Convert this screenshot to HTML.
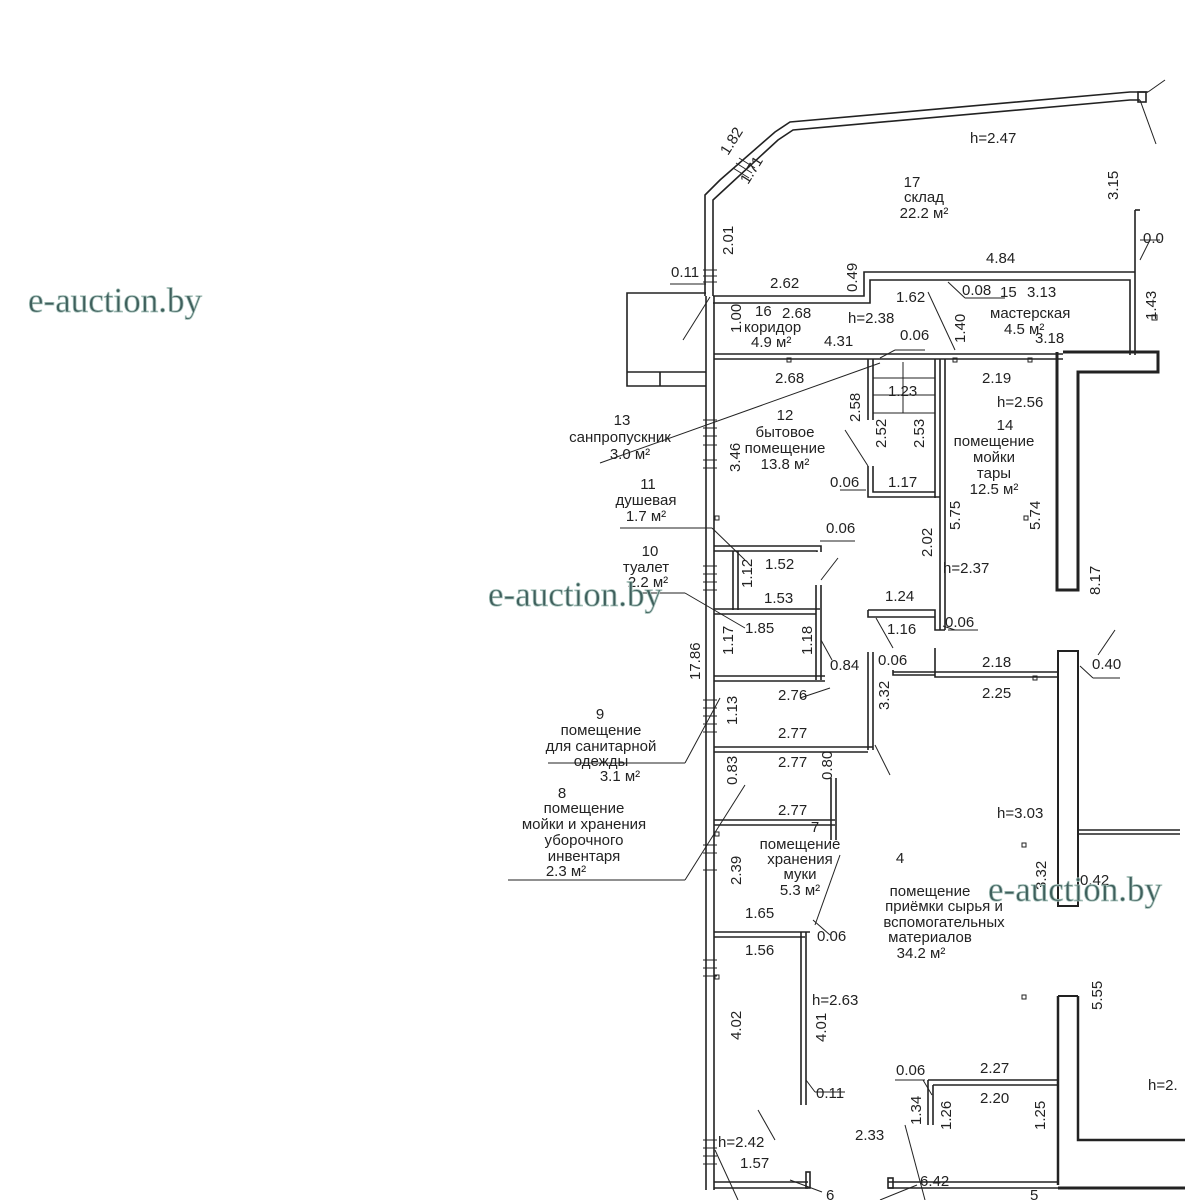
<!DOCTYPE html>
<html><head><meta charset="utf-8"><style>
html,body{margin:0;padding:0;background:#fff;}
svg{display:block}
text{font-family:"Liberation Sans Narrow","Liberation Sans","DejaVu Sans Condensed",sans-serif;font-size:15px;fill:#222;}
.wm{font-family:"Liberation Serif",serif;font-size:35px;fill:#3f5f5c;stroke:#a9c4bd;stroke-width:0.8;}
</style></head><body>
<svg width="1200" height="1200" viewBox="0 0 1200 1200" xmlns="http://www.w3.org/2000/svg">
<rect width="1200" height="1200" fill="#fff"/>
<g stroke="#222" stroke-width="1.6" fill="none">
<path d="M705 296 V195 L720 180 L775 132 L790 122 L1130 92 L1148 92"/>
<path d="M713 296 V200 L726 188 L778 140 L793 130 L1130 100 L1140 100"/>
<rect x="1138" y="92" width="8" height="10"/>
<line x1="1140" y1="100" x2="1156" y2="144" stroke-width="1"/>
<line x1="1148" y1="92" x2="1165" y2="80" stroke-width="1"/>
<line x1="706" y1="296" x2="706" y2="1190"/>
<line x1="714" y1="296" x2="714" y2="1190"/>
<path d="M713 296 H864 V272 H1135"/>
<path d="M713 303 H870 V280 H1130 V355"/>
<line x1="1135" y1="210" x2="1135" y2="355"/>
<line x1="1135" y1="210" x2="1140" y2="210"/>
<path d="M706 293 H627 V386 H706"/>
<line x1="627" y1="372" x2="706" y2="372"/>
<line x1="660" y1="372" x2="660" y2="386"/>
<line x1="714" y1="354" x2="1063" y2="354"/>
<line x1="714" y1="359" x2="1063" y2="359"/>
<path d="M1063 352 H1158 V372 H1078 V590 H1057 V352" stroke-width="3"/>
<line x1="868" y1="359" x2="868" y2="420"/>
<line x1="873" y1="359" x2="873" y2="420"/>
<line x1="935" y1="359" x2="935" y2="498"/>
<line x1="940" y1="359" x2="940" y2="630"/>
<line x1="945" y1="359" x2="945" y2="630"/>
<line x1="873" y1="378" x2="935" y2="378" stroke-width="1"/>
<line x1="873" y1="395" x2="935" y2="395" stroke-width="1"/>
<line x1="873" y1="413" x2="935" y2="413" stroke-width="1"/>
<line x1="903" y1="362" x2="903" y2="413" stroke-width="1"/>
<path d="M868 466 V497 H940"/>
<path d="M873 466 V492 H935"/>
<path d="M714 546 H821 V552"/>
<path d="M714 551 H817 V552"/>
<line x1="733" y1="551" x2="733" y2="610"/>
<line x1="738" y1="551" x2="738" y2="610"/>
<line x1="714" y1="609" x2="820" y2="609"/>
<line x1="714" y1="614" x2="816" y2="614"/>
<line x1="816" y1="585" x2="816" y2="680"/>
<line x1="821" y1="585" x2="821" y2="680"/>
<path d="M868 610 H935 V630 H945"/>
<path d="M868 610 V617 H935"/>
<line x1="868" y1="652" x2="868" y2="750"/>
<line x1="873" y1="652" x2="873" y2="750"/>
<line x1="714" y1="676" x2="825" y2="676"/>
<line x1="714" y1="681" x2="825" y2="681"/>
<line x1="714" y1="747" x2="873" y2="747"/>
<line x1="714" y1="752" x2="868" y2="752"/>
<line x1="714" y1="820" x2="835" y2="820"/>
<line x1="714" y1="825" x2="835" y2="825"/>
<line x1="831" y1="778" x2="831" y2="840"/>
<line x1="836" y1="778" x2="836" y2="840"/>
<path d="M935 648 V677 H1057"/>
<path d="M893 670 V675 H935"/>
<line x1="893" y1="672" x2="1057" y2="672"/>
<rect x="1058" y="651" width="20" height="255" stroke-width="2"/>
<line x1="1078" y1="830" x2="1180" y2="830"/>
<line x1="1078" y1="834" x2="1180" y2="834"/>
<line x1="714" y1="932" x2="810" y2="932"/>
<line x1="714" y1="937" x2="805" y2="937"/>
<line x1="801" y1="932" x2="801" y2="1105"/>
<line x1="806" y1="932" x2="806" y2="1105"/>
<path d="M1058 996 V1185 M1078 996 V1140 H1185" stroke-width="2.5"/>
<line x1="1058" y1="996" x2="1078" y2="996" stroke-width="2"/>
<path d="M928 1080 H1058 M933 1085 H1058"/>
<line x1="928" y1="1080" x2="928" y2="1125"/>
<line x1="933" y1="1085" x2="933" y2="1125"/>
<line x1="714" y1="1182" x2="808" y2="1182"/>
<line x1="714" y1="1188" x2="808" y2="1188"/>
<line x1="888" y1="1182" x2="1058" y2="1182"/>
<line x1="888" y1="1188" x2="1058" y2="1188"/>
<line x1="1058" y1="1188" x2="1185" y2="1188" stroke-width="3"/>
<rect x="806" y="1172" width="4" height="16"/>
<rect x="888" y="1178" width="5" height="10"/>
<g stroke-width="1">
<line x1="683" y1="340" x2="710" y2="297"/>
<line x1="670" y1="284" x2="706" y2="284"/>
<line x1="965" y1="298" x2="948" y2="282"/>
<line x1="965" y1="298" x2="1005" y2="298"/>
<line x1="928" y1="292" x2="955" y2="350"/>
<line x1="880" y1="358" x2="895" y2="350"/>
<line x1="895" y1="350" x2="925" y2="350"/>
<line x1="600" y1="463" x2="880" y2="363"/>
<line x1="845" y1="430" x2="868" y2="466"/>
<line x1="840" y1="490" x2="866" y2="490"/>
<line x1="620" y1="528" x2="712" y2="528"/>
<line x1="712" y1="528" x2="745" y2="560"/>
<line x1="820" y1="541" x2="855" y2="541"/>
<line x1="640" y1="593" x2="685" y2="593"/>
<line x1="685" y1="593" x2="745" y2="628"/>
<line x1="838" y1="558" x2="821" y2="580"/>
<line x1="821" y1="640" x2="832" y2="660"/>
<line x1="876" y1="618" x2="893" y2="648"/>
<line x1="943" y1="626" x2="955" y2="630"/>
<line x1="948" y1="630" x2="978" y2="630"/>
<line x1="1080" y1="666" x2="1093" y2="678"/>
<line x1="1093" y1="678" x2="1120" y2="678"/>
<line x1="1098" y1="655" x2="1115" y2="630"/>
<line x1="548" y1="763" x2="685" y2="763"/>
<line x1="685" y1="763" x2="720" y2="698"/>
<line x1="800" y1="698" x2="830" y2="688"/>
<line x1="508" y1="880" x2="685" y2="880"/>
<line x1="685" y1="880" x2="745" y2="785"/>
<line x1="875" y1="745" x2="890" y2="775"/>
<line x1="815" y1="925" x2="840" y2="855"/>
<line x1="813" y1="920" x2="830" y2="935"/>
<line x1="815" y1="1092" x2="845" y2="1092"/>
<line x1="806" y1="1080" x2="815" y2="1092"/>
<line x1="895" y1="1080" x2="925" y2="1080"/>
<line x1="923" y1="1080" x2="932" y2="1095"/>
<line x1="758" y1="1110" x2="775" y2="1140"/>
<line x1="715" y1="1150" x2="738" y2="1200"/>
<line x1="790" y1="1180" x2="822" y2="1192"/>
<line x1="880" y1="1200" x2="917" y2="1185"/>
<line x1="905" y1="1125" x2="925" y2="1200"/>
<line x1="1140" y1="260" x2="1150" y2="240"/>
<line x1="1140" y1="240" x2="1160" y2="240"/>
</g>
<g stroke-width="1">
<rect x="787" y="358" width="4" height="4"/><rect x="953" y="358" width="4" height="4"/><rect x="1028" y="358" width="4" height="4"/>
<rect x="1152" y="315" width="5" height="5"/><rect x="1024" y="516" width="4" height="4"/>
<rect x="1033" y="676" width="4" height="4"/><rect x="1022" y="843" width="4" height="4"/><rect x="1022" y="995" width="4" height="4"/>
<rect x="715" y="516" width="4" height="4"/><rect x="715" y="832" width="4" height="4"/><rect x="715" y="975" width="4" height="4"/>
</g>
</g>
<g stroke="#222" stroke-width="1">
<path d="M703 270h14M703 276h14M703 282h14M703 420h14M703 428h14M703 436h14M703 445h14M703 460h14M703 468h14M703 566h14M703 574h14M703 582h14M703 590h14M703 700h14M703 708h14M703 716h14M703 724h14M703 732h14M703 845h14M703 853h14M703 870h14M703 960h14M703 968h14M703 976h14M703 1140h14M703 1148h14M703 1156h14M703 1164h14"/>
<path d="M733 168l16 10M736 163l16 10M739 158l16 10"/>
</g>
<text x="970" y="143">h=2.47</text>
<text x="1118" y="200" transform="rotate(-90 1118 200)">3.15</text>
<text x="1143" y="243">0.0</text>
<text x="912" y="187" text-anchor="middle">17</text>
<text x="924" y="202" text-anchor="middle">склад</text>
<text x="924" y="218" text-anchor="middle">22.2 м²</text>
<text x="986" y="263">4.84</text>
<text x="728" y="156" transform="rotate(-58 728 156)">1.82</text>
<text x="748" y="185" transform="rotate(-58 748 185)">1.71</text>
<text x="733" y="255" transform="rotate(-90 733 255)">2.01</text>
<text x="671" y="277">0.11</text>
<text x="770" y="288">2.62</text>
<text x="857" y="292" transform="rotate(-90 857 292)">0.49</text>
<text x="962" y="295">0.08</text>
<text x="896" y="302">1.62</text>
<text x="1000" y="297">15</text>
<text x="1027" y="297">3.13</text>
<text x="990" y="318">мастерская</text>
<text x="1004" y="334">4.5 м²</text>
<text x="1035" y="343">3.18</text>
<text x="1156" y="320" transform="rotate(-90 1156 320)">1.43</text>
<text x="965" y="343" transform="rotate(-90 965 343)">1.40</text>
<text x="741" y="333" transform="rotate(-90 741 333)">1.00</text>
<text x="755" y="316">16</text>
<text x="744" y="332">коридор</text>
<text x="751" y="347">4.9 м²</text>
<text x="782" y="318">2.68</text>
<text x="848" y="323">h=2.38</text>
<text x="824" y="346">4.31</text>
<text x="900" y="340">0.06</text>
<text x="775" y="383">2.68</text>
<text x="888" y="396">1.23</text>
<text x="982" y="383">2.19</text>
<text x="997" y="407">h=2.56</text>
<text x="860" y="422" transform="rotate(-90 860 422)">2.58</text>
<text x="886" y="448" transform="rotate(-90 886 448)">2.52</text>
<text x="924" y="448" transform="rotate(-90 924 448)">2.53</text>
<text x="1005" y="430" text-anchor="middle">14</text>
<text x="994" y="446" text-anchor="middle">помещение</text>
<text x="994" y="462" text-anchor="middle">мойки</text>
<text x="994" y="478" text-anchor="middle">тары</text>
<text x="994" y="494" text-anchor="middle">12.5 м²</text>
<text x="1040" y="530" transform="rotate(-90 1040 530)">5.74</text>
<text x="960" y="530" transform="rotate(-90 960 530)">5.75</text>
<text x="1100" y="595" transform="rotate(-90 1100 595)">8.17</text>
<text x="785" y="420" text-anchor="middle">12</text>
<text x="785" y="437" text-anchor="middle">бытовое</text>
<text x="785" y="453" text-anchor="middle">помещение</text>
<text x="785" y="469" text-anchor="middle">13.8 м²</text>
<text x="740" y="472" transform="rotate(-90 740 472)">3.46</text>
<text x="830" y="487">0.06</text>
<text x="888" y="487">1.17</text>
<text x="622" y="425" text-anchor="middle">13</text>
<text x="620" y="442" text-anchor="middle">санпропускник</text>
<text x="630" y="459" text-anchor="middle">3.0 м²</text>
<text x="648" y="489" text-anchor="middle">11</text>
<text x="646" y="505" text-anchor="middle">душевая</text>
<text x="646" y="521" text-anchor="middle">1.7 м²</text>
<text x="826" y="533">0.06</text>
<text x="765" y="569">1.52</text>
<text x="764" y="603">1.53</text>
<text x="752" y="588" transform="rotate(-90 752 588)">1.12</text>
<text x="650" y="556" text-anchor="middle">10</text>
<text x="646" y="572" text-anchor="middle">туалет</text>
<text x="648" y="587" text-anchor="middle">2.2 м²</text>
<text x="932" y="557" transform="rotate(-90 932 557)">2.02</text>
<text x="943" y="573">h=2.37</text>
<text x="885" y="601">1.24</text>
<text x="887" y="634">1.16</text>
<text x="945" y="627">0.06</text>
<text x="745" y="633">1.85</text>
<text x="733" y="655" transform="rotate(-90 733 655)">1.17</text>
<text x="812" y="655" transform="rotate(-90 812 655)">1.18</text>
<text x="830" y="670">0.84</text>
<text x="878" y="665">0.06</text>
<text x="982" y="667">2.18</text>
<text x="982" y="698">2.25</text>
<text x="1092" y="669">0.40</text>
<text x="700" y="680" transform="rotate(-90 700 680)">17.86</text>
<text x="778" y="700">2.76</text>
<text x="889" y="710" transform="rotate(-90 889 710)">3.32</text>
<text x="737" y="725" transform="rotate(-90 737 725)">1.13</text>
<text x="778" y="738">2.77</text>
<text x="600" y="719" text-anchor="middle">9</text>
<text x="601" y="735" text-anchor="middle">помещение</text>
<text x="601" y="751" text-anchor="middle">для санитарной</text>
<text x="601" y="766" text-anchor="middle">одежды</text>
<text x="620" y="781" text-anchor="middle">3.1 м²</text>
<text x="778" y="767">2.77</text>
<text x="737" y="785" transform="rotate(-90 737 785)">0.83</text>
<text x="832" y="780" transform="rotate(-90 832 780)">0.80</text>
<text x="562" y="798" text-anchor="middle">8</text>
<text x="584" y="813" text-anchor="middle">помещение</text>
<text x="584" y="829" text-anchor="middle">мойки и хранения</text>
<text x="584" y="845" text-anchor="middle">уборочного</text>
<text x="584" y="861" text-anchor="middle">инвентаря</text>
<text x="566" y="876" text-anchor="middle">2.3 м²</text>
<text x="778" y="815">2.77</text>
<text x="815" y="832" text-anchor="middle">7</text>
<text x="800" y="849" text-anchor="middle">помещение</text>
<text x="800" y="864" text-anchor="middle">хранения</text>
<text x="800" y="879" text-anchor="middle">муки</text>
<text x="800" y="895" text-anchor="middle">5.3 м²</text>
<text x="741" y="885" transform="rotate(-90 741 885)">2.39</text>
<text x="997" y="818">h=3.03</text>
<text x="900" y="863" text-anchor="middle">4</text>
<text x="930" y="896" text-anchor="middle">помещение</text>
<text x="944" y="911" text-anchor="middle">приёмки сырья и</text>
<text x="944" y="927" text-anchor="middle">вспомогательных</text>
<text x="930" y="942" text-anchor="middle">материалов</text>
<text x="921" y="958" text-anchor="middle">34.2 м²</text>
<text x="1046" y="890" transform="rotate(-90 1046 890)">3.32</text>
<text x="1080" y="885">0.42</text>
<text x="745" y="918">1.65</text>
<text x="745" y="955">1.56</text>
<text x="817" y="941">0.06</text>
<text x="812" y="1005">h=2.63</text>
<text x="1102" y="1010" transform="rotate(-90 1102 1010)">5.55</text>
<text x="741" y="1040" transform="rotate(-90 741 1040)">4.02</text>
<text x="826" y="1042" transform="rotate(-90 826 1042)">4.01</text>
<text x="896" y="1075">0.06</text>
<text x="980" y="1073">2.27</text>
<text x="1148" y="1090">h=2.</text>
<text x="816" y="1098">0.11</text>
<text x="980" y="1103">2.20</text>
<text x="921" y="1125" transform="rotate(-90 921 1125)">1.34</text>
<text x="951" y="1130" transform="rotate(-90 951 1130)">1.26</text>
<text x="1045" y="1130" transform="rotate(-90 1045 1130)">1.25</text>
<text x="718" y="1147">h=2.42</text>
<text x="740" y="1168">1.57</text>
<text x="855" y="1140">2.33</text>
<text x="920" y="1186">6.42</text>
<text x="826" y="1200">6</text>
<text x="1030" y="1200">5</text>
<text class="wm" x="28" y="312">e-auction.by</text>
<text class="wm" x="488" y="606">e-auction.by</text>
<text class="wm" x="988" y="901">e-auction.by</text>
</svg>
</body></html>
